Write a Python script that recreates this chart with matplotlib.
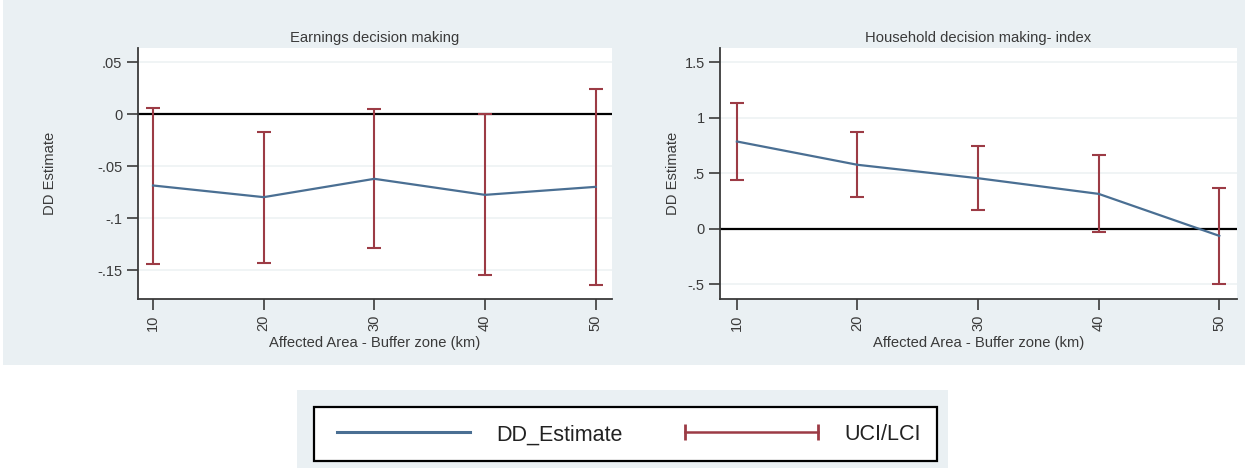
import matplotlib.pyplot as plt
from matplotlib.lines import Line2D
from matplotlib.patches import Rectangle

plt.rcParams['font.family'] = ['Liberation Sans', 'DejaVu Sans']

# 数据
buffer_km = [10, 20, 30, 40, 50]

earn_est = [-0.0685, -0.0797, -0.0621, -0.0775, -0.0698]
earn_uci = [0.0058, -0.0173, 0.0051, 0.0000, 0.0240]
earn_lci = [-0.1437, -0.1427, -0.1283, -0.1545, -0.1638]

hh_est = [0.787, 0.577, 0.456, 0.315, -0.063]
hh_uci = [1.138, 0.871, 0.748, 0.664, 0.367]
hh_lci = [0.441, 0.285, 0.171, -0.024, -0.498]

earn_yticks = [0.05, 0, -0.05, -0.1, -0.15]
earn_ylabels = ['.05', '0', '-.05', '-.1', '-.15']
hh_yticks = [1.5, 1, 0.5, 0, -0.5]
hh_ylabels = ['1.5', '1', '.5', '0', '-.5']

bg = '#eaf0f3'
blue = '#4a6f93'
red = '#9c3b45'
axc = '#3a3a3a'
txt = '#3a3a3a'

fig = plt.figure(figsize=(12.5, 4.68), dpi=100)
fig.patch.set_facecolor('white')
# 灰色背景区域
fig.patches.append(Rectangle((0.002, 1 - 365 / 468), 0.994, 365 / 468,
                             transform=fig.transFigure, facecolor=bg,
                             edgecolor='none', zorder=-10))
fig.patches.append(Rectangle((297 / 1250, 0), (948 - 297) / 1250, 78 / 468,
                             transform=fig.transFigure, facecolor=bg,
                             edgecolor='none', zorder=-10))


def panel(rect, est, uci, lci, title, yticks, ylabels, ylim, ypad):
    ax = fig.add_axes(rect)
    ax.set_zorder(1)
    ax.set_facecolor('white')
    lo = [e - l for e, l in zip(est, lci)]
    hi = [u - e for e, u in zip(est, uci)]
    ax.errorbar(buffer_km, est, yerr=[lo, hi], fmt='none', ecolor=red,
                elinewidth=1.5, capsize=5, capthick=1.5, zorder=3)
    ax.plot(buffer_km, est, color=blue, lw=1.6, zorder=4)
    ax.axhline(0, color='black', lw=1.6, zorder=2)
    ax.set_ylim(ylim)
    ax.set_xlim(8.6, 51.45)
    ax.set_yticks(yticks)
    ax.set_yticklabels(ylabels)
    ax.set_xticks(buffer_km)
    ax.set_xticklabels([str(b) for b in buffer_km], rotation=90)
    ax.yaxis.grid(True, color='#edf2f4', lw=1.2, zorder=0)
    ax.set_axisbelow(True)
    for s in ['top', 'right']:
        ax.spines[s].set_visible(False)
    for s in ['left', 'bottom']:
        ax.spines[s].set_color(axc)
        ax.spines[s].set_linewidth(1.3)
    ax.tick_params(direction='out', length=8, width=1.2, color=axc,
                   labelsize=10.5, labelcolor=txt, pad=3)
    ax.set_title(title, fontsize=10.6, color=txt, pad=4)
    ax.set_ylabel('DD Estimate', fontsize=10.6, color=txt, labelpad=ypad)
    ax.set_xlabel('Affected Area - Buffer zone (km)', fontsize=10.6,
                  color=txt, labelpad=4)
    return ax


panel([0.110, 0.3611, 0.3794, 0.5363], earn_est, earn_uci, earn_lci,
      'Earnings decision making', earn_yticks, earn_ylabels,
      (-0.1775, 0.0635), 29)
panel([0.576, 0.3611, 0.4134, 0.5363], hh_est, hh_uci, hh_lci,
      'Household decision making- index', hh_yticks, hh_ylabels,
      (-0.632, 1.629), 3)

handles = [Line2D([], [], color=blue, lw=2.2),
           Line2D([], [], color=red, lw=1.8, marker='|', markersize=12,
                  markeredgewidth=2)]
leg = fig.legend(handles, ['DD_Estimate', 'UCI/LCI'], ncol=2,
                 loc='center', bbox_to_anchor=(625.5 / 1250, 1 - 434 / 468),
                 fontsize=15.5, frameon=True, fancybox=False, handlelength=6.8,
                 handleheight=1.1, handletextpad=0.9, columnspacing=2.6,
                 borderpad=0.75, borderaxespad=0, numpoints=2, framealpha=1,
                 facecolor='white')
leg.get_frame().set_edgecolor('black')
leg.get_frame().set_linewidth(1.6)
for t in leg.get_texts():
    t.set_color('#222222')

fig.savefig('out.png', dpi=100)
